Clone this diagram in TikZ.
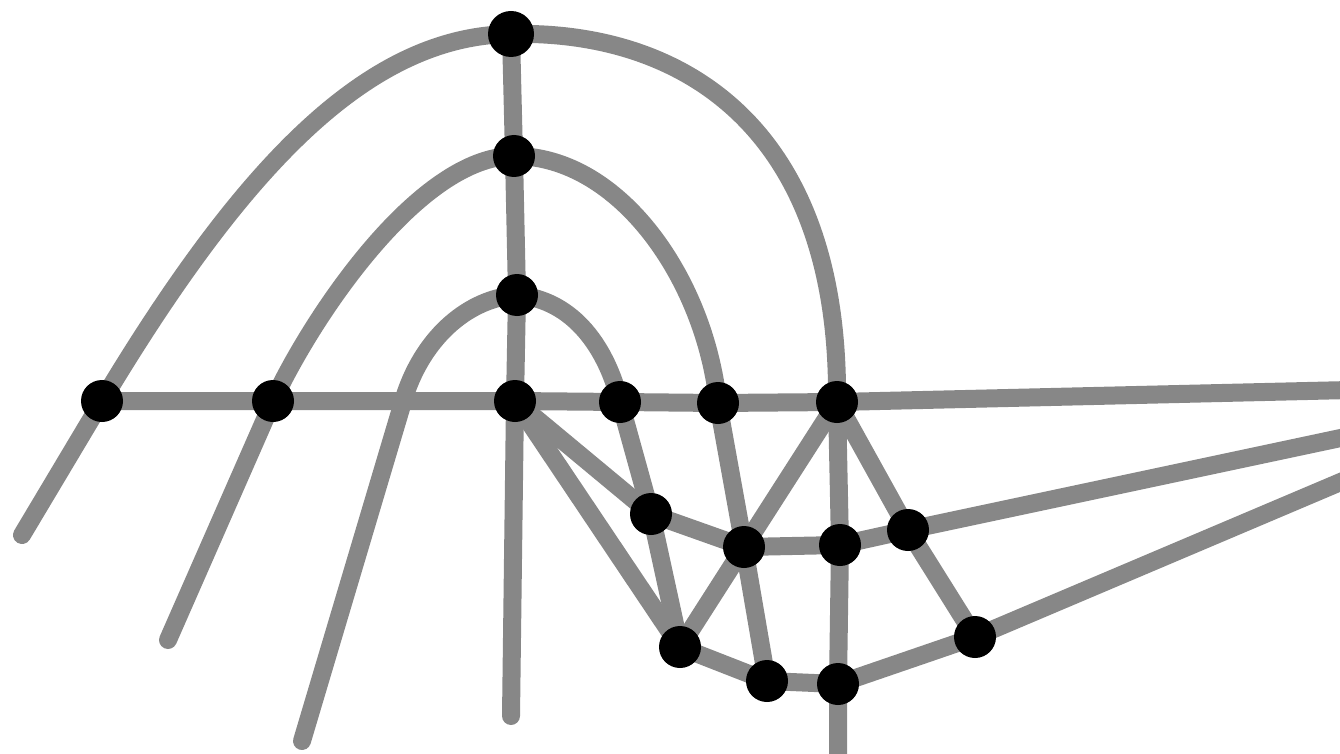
\documentclass[tikz,border=0pt]{standalone}
\usetikzlibrary{backgrounds}
\begin{document}
\tikzset{
  dot/.style={circle,fill=black,draw=none,inner sep=0pt,minimum size=42pt},
  bigdot/.style={dot,minimum size=46pt},
  edge/.style={draw=black!47,line width=18pt,line cap=round,line join=round}
}
\begin{tikzpicture}[x=1pt,y=-1pt]
\useasboundingbox (0,0) rectangle (1340,754);
% dots
\node[bigdot] (A) at (511,34) {};
\node[dot] (B) at (514,156) {};
\node[dot] (C) at (517,295) {};
\node[dot] (D) at (515,401) {};
\node[dot] (L1) at (102,401) {};
\node[dot] (L2) at (273,401) {};
\node[dot] (R1) at (620,402) {};
\node[dot] (R2) at (718,403) {};
\node[dot] (R3) at (837,402) {};
\node[dot] (E) at (651,514) {};
\node[dot] (F) at (744,547) {};
\node[dot] (G) at (840,545) {};
\node[dot] (H) at (908,530) {};
\node[dot] (I) at (680,647) {};
\node[dot] (J) at (767,681) {};
\node[dot] (K) at (838,684) {};
\node[dot] (M) at (975,637) {};
% free ends
\coordinate (oL) at (22,535);
\coordinate (mL) at (168,640);
\coordinate (iL) at (302,741);
\coordinate (iX) at (405,395);
\coordinate (vD) at (511,716);
\coordinate (kB) at (838,770);
\coordinate (hR) at (1350,390);
\coordinate (gR) at (1350,436);
\coordinate (mR) at (1350,478);
\begin{pgfonlayer}{background}
\clip (0,0) rectangle (1340,754);
% outer arc
\draw[edge] (oL) -- (L1.center) .. controls (246,161) and (370,36) .. (A.center)
  .. controls (680,30) and (840,125) .. (R3.center);
% middle arc
\draw[edge] (mL) -- (L2.center) .. controls (313,315) and (420,156) .. (B.center)
  .. controls (620,156) and (705,280) .. (R2.center) -- (F.center) -- (J.center);
% inner arc
\draw[edge] (iL) -- (iX) .. controls (425,335) and (470,298) .. (C.center)
  .. controls (575,300) and (607,350) .. (R1.center) -- (E.center) -- (I.center);
% horizontal and vertical axes
\draw[edge] (L1.center) -- (L2.center) -- (D.center) -- (R1.center) -- (R2.center) -- (R3.center) -- (hR);
\draw[edge] (A.center) -- (B.center) -- (C.center) -- (D.center) -- (vD);
% lower net
\draw[edge] (D.center) -- (E.center) -- (F.center) -- (G.center) -- (H.center) -- (gR);
\draw[edge] (D.center) -- (I.center);
\draw[edge] (R3.center) -- (F.center) -- (I.center);
\draw[edge] (R3.center) -- (G.center) -- (K.center) -- (kB);
\draw[edge] (R3.center) -- (H.center) -- (M.center);
\draw[edge] (I.center) -- (J.center) -- (K.center) -- (M.center) -- (mR);
\end{pgfonlayer}
\end{tikzpicture}
\end{document}
